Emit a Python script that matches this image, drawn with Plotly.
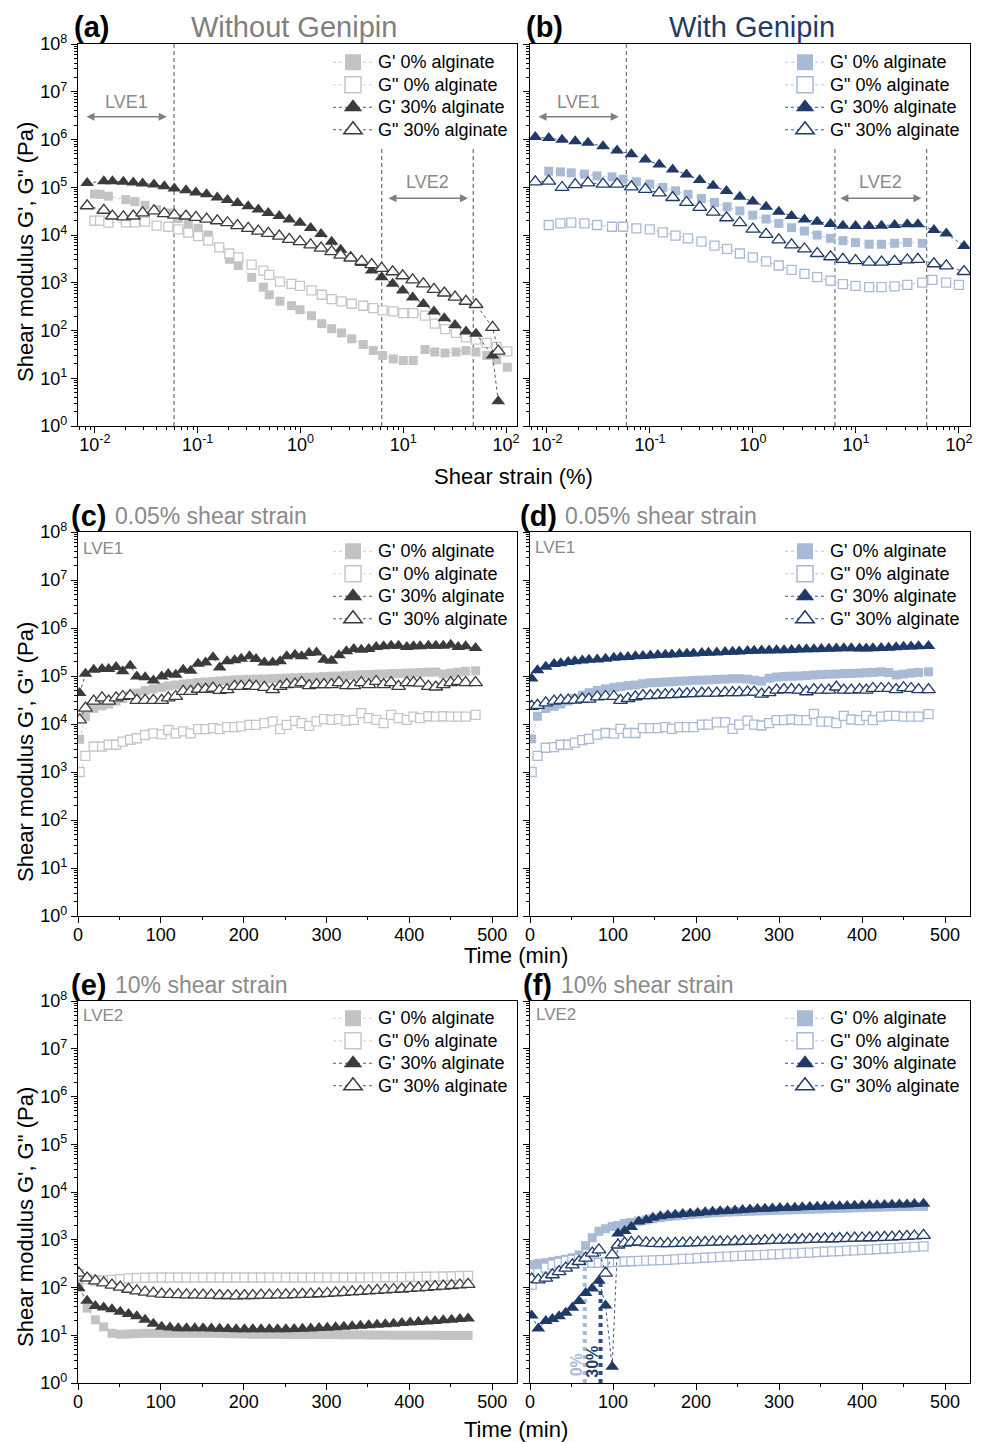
import math
import plotly.graph_objects as go

# page geometry (the page body adds an 8 px offset)
PAGE_W, PAGE_H, OFF = 983, 1442, 8
W, H = PAGE_W - OFF, PAGE_H - OFF

# ---------------- data ----------------
# (a) amplitude sweep, without genipin
a_strain_sq = [0.0099, 0.0112, 0.0135, 0.020, 0.0245, 0.0307, 0.0398, 0.0517, 0.0647, 0.081,
               0.101, 0.127, 0.162, 0.203, 0.248, 0.335, 0.435, 0.497, 0.631, 0.82,
               0.989, 1.28, 1.61, 2.01, 2.51, 3.15, 4.08, 5.11, 6.3, 8.0,
               10.0, 12.5, 16.3, 20.3, 25.5, 32.6, 40.8, 51, 64.9, 81, 103]
a_gp_0 = [7.2e4, 7.1e4, 6.5e4, 5.5e4, 5.0e4, 4.2e4, 3.4e4, 2.9e4, 2.2e4, 1.7e4,
          1.38e4, 1.0e4, 5.5e3, 3.1e3, 2.3e3, 1.3e3, 810, 560, 410, 330,
          272, 204, 139, 109, 89, 67, 51, 38, 30, 25.4,
          23.5, 23.5, 40, 35.5, 33.8, 35.5, 38, 35.5, 30, 24.5, 17]
a_gpp_0 = [1.99e4, 2.0e4, 1.81e4, 1.84e4, 1.84e4, 1.9e4, 1.57e4, 1.49e4, 1.31e4, 1.12e4,
           9.5e3, 7.6e3, 5.5e3, 4.1e3, 3.4e3, 2.4e3, 1.8e3, 1.46e3, 1.06e3, 950,
           860, 690, 560, 454, 406, 363, 330, 295, 263, 251,
           232, 232, 204, 139, 107, 89, 72, 64.5, 55, 45.3, 36.7]
a_strain_tri = [0.0084, 0.0122, 0.0148, 0.0189, 0.0236, 0.0291, 0.0375, 0.0473, 0.0592, 0.0769,
                0.096, 0.122, 0.155, 0.195, 0.244, 0.31, 0.389, 0.486, 0.622, 0.778,
                0.988, 1.256, 1.585, 2.01, 2.46, 3.08, 3.94, 4.93, 6.17, 7.89,
                9.87, 12.35, 15.7, 19.9, 25.1, 31.9, 40.8, 51.1, 74, 84]
a_gp_30 = [1.23e5, 1.34e5, 1.34e5, 1.30e5, 1.26e5, 1.2e5, 1.14e5, 1.05e5, 9.4e4, 8.7e4,
           7.8e4, 7.1e4, 6.1e4, 5.4e4, 4.7e4, 4.0e4, 3.4e4, 2.9e4, 2.5e4, 2.1e4,
           1.8e4, 1.4e4, 1.05e4, 7.2e3, 4.9e3, 3.5e3, 2.6e3, 1.8e3, 1.3e3, 950,
           690, 490, 360, 250, 180, 130, 95, 85, 30, 3.3]
a_gpp_30 = [4.1e4, 3.3e4, 2.5e4, 2.4e4, 2.5e4, 2.9e4, 3.2e4, 2.8e4, 2.6e4, 2.5e4,
            2.34e4, 2.16e4, 1.99e4, 1.81e4, 1.57e4, 1.38e4, 1.21e4, 1.08e4, 9.5e3, 8.1e3,
            7.3e3, 6.2e3, 5.3e3, 4.5e3, 3.8e3, 3.3e3, 2.8e3, 2.4e3, 2.0e3, 1.7e3,
            1.4e3, 1.15e3, 950, 730, 610, 500, 410, 350, 116, 37]

# (b) amplitude sweep, with genipin
b_strain_sq = [0.0104, 0.0135, 0.0172, 0.0231, 0.0306, 0.0428, 0.0547, 0.0738, 0.0995, 0.133,
               0.177, 0.234, 0.316, 0.423, 0.561, 0.745, 0.996, 1.34, 1.78, 2.37,
               3.16, 4.2, 5.66, 7.46, 9.9, 13.4, 17.7, 23.7, 31.5, 44, 55, 75, 100]
b_gp_0 = [2.17e5, 2.1e5, 2.0e5, 1.88e5, 1.73e5, 1.65e5, 1.47e5, 1.3e5, 1.16e5, 9.9e4,
          8.4e4, 7.1e4, 5.8e4, 4.8e4, 3.9e4, 3.2e4, 2.6e4, 2.16e4, 1.75e4, 1.42e4,
          1.21e4, 1.0e4, 8.5e3, 7.6e3, 6.9e3, 6.4e3, 6.4e3, 6.7e3, 7.0e3, 6.7e3]
b_gpp_0 = [1.62e4, 1.75e4, 1.81e4, 1.75e4, 1.62e4, 1.49e4, 1.49e4, 1.38e4, 1.31e4, 1.14e4,
           9.7e3, 8.5e3, 7.3e3, 6.0e3, 5.1e3, 4.1e3, 3.4e3, 2.8e3, 2.3e3, 1.86e3,
           1.53e3, 1.31e3, 1.1e3, 933, 863, 810, 810, 836, 906, 1.01e3, 1.15e3, 1.01e3, 906]
b_strain_tri = [0.0077, 0.0104, 0.014, 0.0188, 0.025, 0.035, 0.0479, 0.0659, 0.0902, 0.123,
                0.166, 0.226, 0.304, 0.41, 0.553, 0.745, 0.996, 1.34, 1.78, 2.37,
                3.16, 4.2, 5.66, 7.46, 9.9, 13.4, 17.7, 23.7, 31.5, 39.9, 57.1, 75.3, 112]
b_gp_30 = [1.13e6, 1.07e6, 9.9e5, 9.2e5, 8.5e5, 7.2e5, 5.9e5, 4.9e5, 3.8e5, 3.0e5,
           2.35e5, 1.85e5, 1.41e5, 1.07e5, 8.3e4, 6.3e4, 5.0e4, 3.9e4, 3.07e4, 2.5e4,
           2.1e4, 1.9e4, 1.7e4, 1.57e4, 1.54e4, 1.54e4, 1.57e4, 1.62e4, 1.67e4, 1.67e4,
           1.27e4, 1.08e4, 5.9e3]
b_gpp_30 = [1.3e5, 1.34e5, 9.9e4, 1.14e5, 1.24e5, 1.16e5, 1.16e5, 1.02e5, 9.0e4, 7.6e4,
            6.1e4, 4.8e4, 3.8e4, 3.0e4, 2.3e4, 1.81e4, 1.33e4, 1.03e4, 7.9e3, 6.2e3,
            5.1e3, 4.1e3, 3.5e3, 3.1e3, 2.9e3, 2.7e3, 2.7e3, 2.8e3, 3.0e3, 3.1e3,
            2.5e3, 2.25e3, 1.72e3]

# (c), (d) time sweeps at 0.05 % strain
time_lve1 = [2, 9, 19, 29, 37, 46, 54, 63, 71, 81,
             91, 101, 109, 118, 127, 136, 145, 154, 163, 171,
             180, 189, 197, 207, 215, 225, 235, 244, 252, 262,
             270, 279, 288, 297, 306, 315, 324, 333, 342, 351,
             360, 369, 378, 387, 397, 405, 413, 423, 432, 441,
             450, 459, 468, 480]
c_gp_0 = [4.8e3, 1.43e4, 2.1e4, 2.4e4, 2.6e4, 3.0e4, 3.4e4, 3.9e4, 4.4e4, 5.0e4,
          5.4e4, 5.8e4, 6.2e4, 6.5e4, 6.8e4, 7.0e4, 7.3e4, 7.5e4, 7.7e4, 7.9e4,
          8.1e4, 8.3e4, 8.4e4, 8.5e4, 8.6e4, 8.7e4, 8.8e4, 8.9e4, 9.0e4, 9.2e4,
          9.3e4, 9.4e4, 9.5e4, 9.7e4, 9.9e4, 1.0e5, 1.02e5, 1.04e5, 1.06e5, 1.07e5,
          1.09e5, 1.1e5, 1.12e5, 1.13e5, 1.15e5, 1.16e5, 1.18e5, 1.2e5, 1.21e5, 1.1e5,
          1.15e5, 1.2e5, 1.25e5, 1.28e5]
c_gpp_0 = [1.0e3, 2.16e3, 3.4e3, 3.4e3, 3.7e3, 3.7e3, 4.3e3, 4.7e3, 5.05e3, 5.9e3,
           6.4e3, 6.1e3, 7.5e3, 6.4e3, 7.0e3, 6.4e3, 7.8e3, 7.8e3, 8.2e3, 7.8e3,
           8.6e3, 8.6e3, 8.9e3, 9.6e3, 9.6e3, 1.04e4, 1.13e4, 7.8e3, 9.6e3, 1.16e4,
           1.04e4, 9.1e3, 1.13e4, 1.26e4, 1.22e4, 1.26e4, 1.18e4, 1.22e4, 1.68e4, 1.32e4,
           1.22e4, 1.04e4, 1.55e4, 1.32e4, 1.22e4, 1.43e4, 1.32e4, 1.45e4, 1.43e4, 1.45e4,
           1.43e4, 1.43e4, 1.43e4, 1.55e4]
c_gp_30 = [4.4e4, 1.11e5, 1.35e5, 1.4e5, 1.4e5, 1.54e5, 1.25e5, 1.64e5, 9.8e4, 9.4e4,
           8.1e4, 9.8e4, 1.1e5, 1.06e5, 1.35e5, 1.29e5, 1.8e5, 1.92e5, 2.45e5, 1.51e5,
           2.02e5, 2.12e5, 2.3e5, 2.57e5, 2.26e5, 1.92e5, 1.92e5, 2.02e5, 2.57e5, 2.78e5,
           2.57e5, 3.0e5, 3.1e5, 2.19e5, 2.08e5, 2.69e5, 3.26e5, 3.66e5, 3.54e5, 3.66e5,
           4.02e5, 4.15e5, 4.29e5, 4.29e5, 4.02e5, 4.15e5, 4.15e5, 4.29e5, 4.29e5, 4.29e5,
           4.5e5, 4.02e5, 4.15e5, 3.84e5]
c_gpp_30 = [1.22e4, 2.14e4, 3.0e4, 3.5e4, 3.0e4, 3.5e4, 3.75e4, 3.9e4, 3.1e4, 3.1e4,
            3.1e4, 3.1e4, 3.5e4, 3.75e4, 4.8e4, 4.8e4, 5.3e4, 5.3e4, 5.6e4, 5.0e4,
            5.2e4, 6.1e4, 6.1e4, 6.3e4, 6.1e4, 5.8e4, 5.2e4, 6.1e4, 6.6e4, 6.8e4,
            7.3e4, 6.3e4, 6.6e4, 6.6e4, 6.6e4, 7.3e4, 6.3e4, 6.3e4, 7.3e4, 6.6e4,
            7.7e4, 6.6e4, 7.3e4, 6.1e4, 7.3e4, 7.3e4, 7.1e4, 6.1e4, 5.9e4, 6.6e4,
            7.3e4, 7.7e4, 7.3e4, 7.3e4]
d_gp_0 = [4.9e3, 1.45e4, 2.1e4, 2.34e4, 2.6e4, 3.0e4, 3.4e4, 3.98e4, 4.5e4, 5.0e4,
          5.4e4, 5.8e4, 6.0e4, 6.3e4, 6.5e4, 6.9e4, 7.2e4, 7.3e4, 7.5e4, 7.6e4,
          7.8e4, 7.9e4, 8.1e4, 8.2e4, 8.3e4, 8.5e4, 8.6e4, 8.8e4, 8.8e4, 8.6e4,
          8.2e4, 7.8e4, 9.0e4, 9.5e4, 9.8e4, 9.9e4, 1.0e5, 1.02e5, 1.05e5, 1.07e5,
          1.09e5, 1.1e5, 1.12e5, 1.13e5, 1.15e5, 1.17e5, 1.19e5, 1.22e5, 1.18e5, 1.05e5,
          1.1e5, 1.15e5, 1.19e5, 1.22e5]
d_gpp_0 = [1.0e3, 2.16e3, 3.2e3, 3.3e3, 3.7e3, 3.7e3, 4.1e3, 4.6e3, 4.9e3, 6.0e3,
           6.5e3, 6.3e3, 7.9e3, 6.5e3, 6.5e3, 8.2e3, 8.2e3, 8.2e3, 8.6e3, 7.9e3,
           8.6e3, 8.6e3, 8.6e3, 9.7e3, 9.7e3, 1.08e4, 1.08e4, 7.9e3, 9.7e3, 1.18e4,
           9.7e3, 9.3e3, 1.04e4, 1.21e4, 1.21e4, 1.24e4, 1.21e4, 1.21e4, 1.62e4, 1.12e4,
           1.12e4, 1.04e4, 1.47e4, 1.24e4, 1.21e4, 1.47e4, 1.21e4, 1.43e4, 1.47e4, 1.47e4,
           1.43e4, 1.43e4, 1.43e4, 1.6e4]
d_gp_30 = [8.9e4, 1.32e5, 1.56e5, 1.77e5, 1.85e5, 1.95e5, 2.02e5, 2.1e5, 2.17e5, 2.22e5,
           2.3e5, 2.4e5, 2.45e5, 2.5e5, 2.58e5, 2.62e5, 2.68e5, 2.73e5, 2.78e5, 2.82e5,
           2.86e5, 2.9e5, 2.95e5, 3.0e5, 3.05e5, 3.1e5, 3.15e5, 3.2e5, 3.25e5, 3.3e5,
           3.35e5, 3.38e5, 3.4e5, 3.43e5, 3.45e5, 3.5e5, 3.55e5, 3.6e5, 3.62e5, 3.65e5,
           3.7e5, 3.75e5, 3.78e5, 3.8e5, 3.76e5, 3.72e5, 3.8e5, 3.85e5, 3.9e5, 3.95e5,
           4.05e5, 4.1e5, 4.15e5, 4.2e5]
d_gpp_30 = [2.34e4, 2.45e4, 2.75e4, 3.0e4, 3.1e4, 3.15e4, 3.15e4, 3.3e4, 3.3e4, 3.66e4,
            3.75e4, 3.75e4, 3.1e4, 3.4e4, 3.7e4, 3.9e4, 3.9e4, 4.0e4, 4.1e4, 4.1e4,
            4.2e4, 4.3e4, 4.3e4, 4.4e4, 4.4e4, 4.4e4, 4.5e4, 4.5e4, 4.5e4, 4.6e4,
            4.6e4, 4.2e4, 4.5e4, 5.1e4, 5.2e4, 5.2e4, 5.1e4, 4.7e4, 5.2e4, 5.1e4,
            5.1e4, 5.9e4, 5.1e4, 5.1e4, 5.2e4, 5.1e4, 5.5e4, 5.5e4, 5.5e4, 5.2e4,
            5.7e4, 5.5e4, 5.2e4, 5.2e4]

# (e) time sweep at 10 % strain, without genipin
time_e = [1, 11, 21, 31, 41, 51, 61, 71, 81, 91,
          101, 111, 121, 131, 141, 151, 161, 171, 181, 191,
          201, 211, 221, 231, 241, 251, 261, 271, 281, 291,
          301, 311, 321, 331, 341, 351, 361, 371, 381, 391,
          401, 411, 421, 431, 441, 451, 461, 471]
e_gp_0 = [120, 37, 21, 15, 11, 10.5, 10.6, 10.8, 11, 11,
          11, 11, 11, 11, 11, 11, 11, 10.9, 10.8, 10.7,
          10.6, 10.5, 10.5, 10.5, 10.5, 10.4, 10.4, 10.4, 10.4, 10.3,
          10.3, 10.3, 10.2, 10.2, 10.2, 10.1, 10.1, 10.1, 10.0, 10.0,
          10.0, 10.0, 10.0, 10.0, 9.9, 9.9, 9.9, 9.9]
e_gpp_0 = [190, 150, 140, 140, 145, 150, 155, 158, 160, 162,
           162, 162, 162, 162, 162, 162, 162, 162, 162, 162,
           162, 162, 162, 162, 162, 162, 162, 162, 162, 162,
           162, 162, 162, 162, 162, 163, 163, 164, 164, 165,
           166, 167, 168, 169, 170, 172, 174, 176]
e_gp_30 = [96, 53, 41, 38, 35, 31, 28, 25, 21, 17.5,
           15, 14.5, 14, 14, 14, 14, 13.8, 13.7, 13.5, 13.4,
           13.4, 13.4, 13.4, 13.4, 13.4, 13.4, 13.5, 13.7, 13.9, 14.1,
           14.4, 14.7, 15, 15.4, 15.8, 16.2, 16.6, 17, 17.5, 18,
           18.5, 19, 19.5, 20, 20.6, 21.2, 21.8, 22.5]
e_gpp_30 = [200, 158, 138, 125, 112, 102, 92, 85, 80, 76,
            73, 72, 71, 70, 70, 69, 69, 68, 68, 67,
            68, 68, 69, 69, 70, 70, 71, 72, 73, 74,
            75, 77, 79, 81, 83, 85, 87, 89, 91, 93,
            96, 98, 101, 104, 107, 110, 113, 116]

# (f) time sweep at 10 % strain, with genipin
time_f = [2, 10, 19, 27, 35, 43, 51, 59, 67, 75,
          83, 91, 99, 106, 114, 122, 131, 140, 148, 157,
          166, 175, 184, 193, 202, 211, 220, 229, 238, 247,
          256, 265, 274, 283, 292, 301, 310, 319, 328, 337,
          346, 355, 364, 373, 382, 391, 400, 409, 418, 427,
          436, 445, 454, 463, 474]
f_gp_0 = [300, 320, 330, 350, 370, 390, 420, 480, 750, 1100,
          1500, 1700, 1900, 2000, 2200, 2300, 2450, 2600, 2750, 2900,
          3050, 3150, 3250, 3350, 3450, 3550, 3650, 3700, 3800, 3850,
          3900, 3950, 4000, 4050, 4100, 4150, 4200, 4250, 4300, 4350,
          4400, 4450, 4500, 4550, 4600, 4650, 4700, 4750, 4800, 4850,
          4900, 4950, 4950, 5000, 5000]
f_gpp_0 = [115, 200, 260, 300, 330, 360, 380, 400, 420, 330,
           330, 335, 340, 345, 350, 355, 360, 365, 370, 375,
           380, 388, 396, 404, 412, 420, 428, 436, 444, 452,
           460, 468, 476, 484, 492, 500, 510, 520, 530, 540,
           550, 560, 570, 580, 590, 600, 612, 624, 636, 648,
           660, 675, 690, 710, 730]
f_gp_30 = [26, 13.8, 20, 22, 25, 29.5, 37.5, 52, 77, 95,
           138, 42, 2.2, 1350, 1530, 1860, 2400, 2600, 2900, 3100,
           3250, 3350, 3450, 3550, 3650, 3750, 3850, 3950, 4000, 4100,
           4200, 4300, 4400, 4450, 4500, 4600, 4650, 4700, 4800, 4850,
           4900, 4950, 5000, 5050, 5100, 5150, 5200, 5250, 5300, 5350,
           5400, 5450, 5500, 5600, 5700]
f_gpp_30 = [150, 145, 157, 185, 216, 254, 299, 350, 412, 525,
            615, 200, 483, 776, 850, 880, 900, 860, 840, 830,
            830, 840, 850, 860, 870, 880, 890, 900, 910, 920,
            930, 940, 950, 960, 970, 980, 990, 1000, 1010, 1020,
            1030, 1040, 1050, 1060, 1070, 1080, 1090, 1100, 1110, 1120,
            1140, 1160, 1180, 1200, 1240]

# reference markers
lve_lines_a = [0.0588, 6.17, 48.0]
lve_lines_b = [0.059, 6.24, 48.5]
lve2_line_top = 7.0e5
lve1_arrow_a = [0.0080, 0.050]
lve2_arrow_a = [6.95, 42.7]
lve1_arrow_b = [0.0080, 0.0497]
lve2_arrow_b = [6.82, 43.2]
lve1_arrow_y = 3.0e6
lve2_arrow_y = 5.9e4
lve1_label_pos = [0.0204, 6.0e6]
lve2_label_pos = [17.4, 1.26e5]
gel_times_f = [66, 85]
gel_tops_f = [275, 125]
gel_labels = ["0%", "30%"]
gel_label_x = [56, 76]
gel_label_y = [2.4, 2.8]

legend_names = ["G' 0% alginate", 'G" 0% alginate', "G' 30% alginate", 'G" 30% alginate']
y_tick_vals = [1, 10, 100, 1e3, 1e4, 1e5, 1e6, 1e7, 1e8]
y_tick_text = ["10<sup>0</sup>", "10<sup>1</sup>", "10<sup>2</sup>", "10<sup>3</sup>", "10<sup>4</sup>",
               "10<sup>5</sup>", "10<sup>6</sup>", "10<sup>7</sup>", "10<sup>8</sup>"]
strain_tick_vals = [0.01, 0.1, 1, 10, 100]
strain_tick_text = ["10<sup>-2</sup>", "10<sup>-1</sup>", "10<sup>0</sup>", "10<sup>1</sup>", "10<sup>2</sup>"]
time_tick_vals = [0, 100, 200, 300, 400, 500]

# ---------------- styling ----------------
FONT = "Arial, Liberation Sans, sans-serif"
GRAYPAL = {
    "gp0": dict(symbol="square", fill="#c3c3c3", edge="#c3c3c3", line="#cccccc", size=9),
    "gpp0": dict(symbol="square", fill="white", edge="#c6c6c6", line="#d2d2d2", size=9),
    "gp30": dict(symbol="triangle-up", fill="#3b3b3b", edge="#3b3b3b", line="#5a5a5a", size=12),
    "gpp30": dict(symbol="triangle-up", fill="white", edge="#3b3b3b", line="#5a5a5a", size=12),
}
BLUEPAL = {
    "gp0": dict(symbol="square", fill="#a8bad6", edge="#a8bad6", line="#b7c6de", size=9),
    "gpp0": dict(symbol="square", fill="white", edge="#a8bad6", line="#b7c6de", size=9),
    "gp30": dict(symbol="triangle-up", fill="#1f3a68", edge="#1f3a68", line="#3a5583", size=12),
    "gpp30": dict(symbol="triangle-up", fill="white", edge="#1f3a68", line="#3a5583", size=12),
}
KEYS = ["gp0", "gpp0", "gp30", "gpp30"]

# panel boxes in page pixels
cols = [(78, 517), (530, 970)]
rows = [(44, 426), (532, 916), (1001, 1383)]


def px_x(x):
    return (x - OFF) / W


def px_y(y):
    return 1 - (y - OFF) / H


fig = go.Figure()

panels = [
    dict(x_sq=a_strain_sq, x_tri=a_strain_tri, ys=[a_gp_0, a_gpp_0, a_gp_30, a_gpp_30], pal=GRAYPAL, kind="strain"),
    dict(x_sq=b_strain_sq, x_tri=b_strain_tri, ys=[b_gp_0, b_gpp_0, b_gp_30, b_gpp_30], pal=BLUEPAL, kind="strain"),
    dict(x_sq=time_lve1, x_tri=time_lve1, ys=[c_gp_0, c_gpp_0, c_gp_30, c_gpp_30], pal=GRAYPAL, kind="time"),
    dict(x_sq=time_lve1, x_tri=time_lve1, ys=[d_gp_0, d_gpp_0, d_gp_30, d_gpp_30], pal=BLUEPAL, kind="time"),
    dict(x_sq=time_e, x_tri=time_e, ys=[e_gp_0, e_gpp_0, e_gp_30, e_gpp_30], pal=GRAYPAL, kind="time"),
    dict(x_sq=time_f, x_tri=time_f, ys=[f_gp_0, f_gpp_0, f_gp_30, f_gpp_30], pal=BLUEPAL, kind="time"),
]

legend_left = {0: 328, 1: 780}
legend_tops = [46, 535, 1002]

layout = dict(
    template="none",
    width=W, height=H, autosize=False, margin=dict(l=0, r=0, t=0, b=0, pad=0, autoexpand=False),
    paper_bgcolor="white", plot_bgcolor="white",
    font=dict(family=FONT, color="black"),
    annotations=[], shapes=[],
)

y_minor = [m * 10 ** d for d in range(0, 8) for m in range(2, 10)]
strain_minor = [m * 10 ** d for d in range(-3, 3) for m in range(2, 10)]

for i, p in enumerate(panels):
    n = i + 1
    r, c = divmod(i, 2)
    xa = "x" if n == 1 else f"x{n}"
    ya = "y" if n == 1 else f"y{n}"
    leg = "legend" if n == 1 else f"legend{n}"
    x0, x1 = cols[c]
    ytop, ybot = rows[r]

    if p["kind"] == "strain":
        lines = lve_lines_a if n == 1 else lve_lines_b
        for k, lx in enumerate(lines):
            ytop_val = 1e8 if k == 0 else lve2_line_top
            fig.add_trace(go.Scatter(x=[lx, lx], y=[1, ytop_val], mode="lines", xaxis=xa, yaxis=ya,
                                     line=dict(color="#7a7a7a", width=1.3, dash="4px,3px"),
                                     showlegend=False, hoverinfo="skip"))
    if n == 6:
        gel_cols = ["#a8bad6", "#2d4c80"]
        for gt, gtop, gc in zip(gel_times_f, gel_tops_f, gel_cols):
            fig.add_trace(go.Scatter(x=[gt, gt], y=[1, gtop], mode="lines", xaxis=xa, yaxis=ya,
                                     line=dict(color=gc, width=4, dash="dot"),
                                     showlegend=False, hoverinfo="skip"))

    for k, key in enumerate(KEYS):
        st = p["pal"][key]
        ys = p["ys"][k]
        xs = p["x_sq"] if k < 2 else p["x_tri"]
        fig.add_trace(go.Scatter(
            x=xs[:len(ys)], y=ys, mode="lines+markers", xaxis=xa, yaxis=ya,
            line=dict(color=st["line"], width=1, dash="dot"),
            marker=dict(symbol=st["symbol"], size=st["size"], color=st["fill"],
                        line=dict(color=st["edge"], width=1.3 if st["fill"] == "white" else 0)),
            showlegend=False, hoverinfo="skip"))
    for k, key in enumerate(KEYS):
        st = p["pal"][key]
        fig.add_trace(go.Scatter(
            x=[None], y=[None], mode="lines+markers", xaxis=xa, yaxis=ya,
            name=f'<span style="font-size:18px">{legend_names[k]}</span>',
            line=dict(color=st["line"], width=1, dash="dot"),
            marker=dict(symbol=st["symbol"], size=16, color=st["fill"],
                        line=dict(color=st["edge"], width=1.5 if st["fill"] == "white" else 0)),
            legend=leg, showlegend=True))

    layout[leg] = dict(x=px_x(legend_left[c]), xanchor="left", y=px_y(legend_tops[r]), yanchor="top",
                       bgcolor="rgba(0,0,0,0)", borderwidth=0, itemwidth=40,
                       font=dict(size=15, family=FONT, color="black"),
                       tracegroupgap=0, itemclick=False)

    xkey = "xaxis" if n == 1 else f"xaxis{n}"
    ykey = "yaxis" if n == 1 else f"yaxis{n}"
    common = dict(showline=True, linecolor="black", linewidth=1.2, mirror=True, showgrid=False,
                  zeroline=False, ticks="outside", ticklen=6, tickwidth=1.2, tickcolor="black",
                  automargin=False, tickfont=dict(size=18, family=FONT, color="black"))
    if p["kind"] == "strain":
        xax = dict(type="log", range=[-2.165, 2.107], tickmode="array", tickvals=strain_tick_vals,
                   ticktext=strain_tick_text,
                   minor=dict(tickmode="array", tickvals=strain_minor, ticks="outside", ticklen=3,
                              tickcolor="black", showgrid=False), **common)
    else:
        xax = dict(type="linear", range=[0, 530], tickmode="array", tickvals=time_tick_vals,
                   minor=dict(dtick=50, tick0=0, ticks="outside", ticklen=3, tickcolor="black",
                              showgrid=False), **common)
    xax.update(domain=[px_x(x0), px_x(x1)], anchor=ya, ticklabelstandoff=-4)
    yax = dict(type="log", range=[0, 8], tickmode="array", tickvals=y_tick_vals, ticktext=y_tick_text,
               showticklabels=(c == 0),
               minor=dict(tickmode="array", tickvals=y_minor, ticks="outside", ticklen=3,
                          tickcolor="black", showgrid=False), **common)
    yax.update(domain=[px_y(ybot), px_y(ytop)], anchor=xa)
    layout[xkey] = xax
    layout[ykey] = yax


def paper_text(text, x, y, size, color="black", xanchor="center", angle=0):
    return dict(text=text, x=px_x(x), y=px_y(y), xref="paper", yref="paper", xanchor=xanchor,
                yanchor="middle", textangle=angle, showarrow=False,
                font=dict(size=size, family=FONT, color=color))


anns = []
panel_heads = [
    ("(a)", 72, 27, "Without Genipin", 294, 27, "#808080", 29, "center"),
    ("(b)", 524, 27, "With Genipin", 752, 27, "#1f3a68", 29, "center"),
    ("(c)", 69, 516, "0.05% shear strain", 113, 516, "#8a8a8a", 23, "left"),
    ("(d)", 518, 516, "0.05% shear strain", 563, 516, "#8a8a8a", 23, "left"),
    ("(e)", 69, 985, "10% shear strain", 113, 985, "#8a8a8a", 23, "left"),
    ("(f)", 521, 985, "10% shear strain", 559, 985, "#8a8a8a", 23, "left"),
]
for lab, lx, ly, ttl, tx, ty, tcol, tsize, tanchor in panel_heads:
    anns.append(paper_text(f"<b>{lab}</b>", lx, ly, 29, "black", "left"))
    anns.append(paper_text(ttl, tx, ty, tsize, tcol, tanchor))

for txt, lx, ly in [("LVE1", 81, 548), ("LVE1", 533, 547), ("LVE2", 81, 1015), ("LVE2", 534, 1014)]:
    anns.append(paper_text(txt, lx, ly, 17, "#8a8a8a", "left"))

for n, a1, a2 in [(1, lve1_arrow_a, lve2_arrow_a), (2, lve1_arrow_b, lve2_arrow_b)]:
    xr = "x" if n == 1 else f"x{n}"
    yr = "y" if n == 1 else f"y{n}"
    for arr, yv in [(a1, lve1_arrow_y), (a2, lve2_arrow_y)]:
        anns.append(dict(text="", x=math.log10(arr[1]), y=math.log10(yv), ax=math.log10(arr[0]),
                         ay=math.log10(yv), xref=xr, yref=yr, axref=xr, ayref=yr, showarrow=True,
                         arrowhead=2, arrowside="end+start", arrowsize=1, arrowwidth=1.6,
                         arrowcolor="#808080", standoff=0, startstandoff=0))
    for txt, pos in [("LVE1", lve1_label_pos), ("LVE2", lve2_label_pos)]:
        anns.append(dict(text=txt, x=math.log10(pos[0]), y=math.log10(pos[1]), xref=xr, yref=yr,
                         xanchor="center", yanchor="middle", showarrow=False,
                         font=dict(size=18, family=FONT, color="#8a8a8a")))

for txt, gx, gy, gc in zip(gel_labels, gel_label_x, gel_label_y, ["#a8bad6", "#1f3a68"]):
    anns.append(dict(text=f"<b>{txt}</b>", x=gx, y=math.log10(gy), xref="x6", yref="y6", textangle=-90,
                     xanchor="center", yanchor="middle", showarrow=False,
                     font=dict(size=16, family=FONT, color=gc)))

for yc in [252, 752, 1217]:
    anns.append(paper_text('Shear modulus G\', G" (Pa)', 25, yc, 22, "black", "center", -90))
anns.append(paper_text("Shear strain (%)", 513, 476, 22))
for yc in [956, 1429]:
    anns.append(paper_text("Time (min)", 516, yc, 22))

layout["annotations"] = anns
fig.update_layout(**layout)
fig.write_html("out.html")
